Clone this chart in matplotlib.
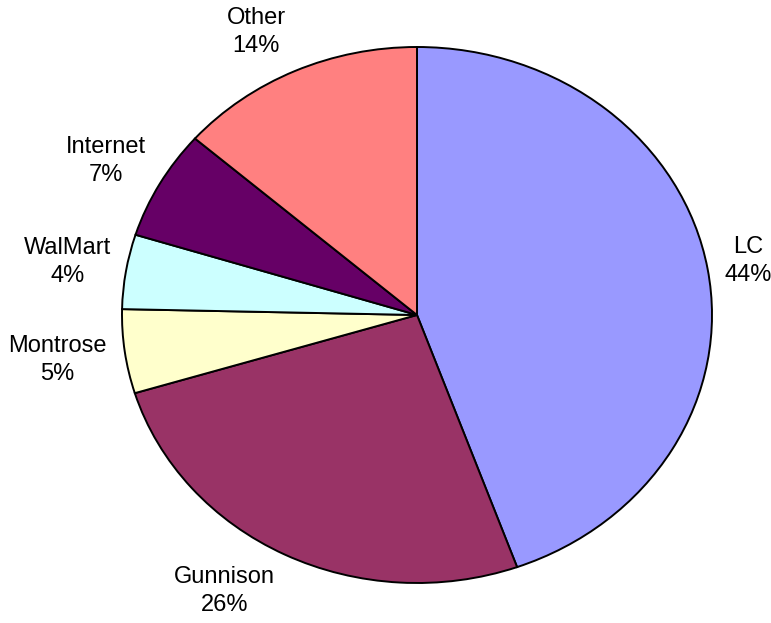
import numpy as np
import matplotlib
matplotlib.use("Agg")
import matplotlib.pyplot as plt


# slice order: clockwise from 12 o'clock
names = ["LC", "Gunnison", "Montrose", "WalMart", "Internet", "Other"]
shares = [44.49, 25.8, 5.06, 4.49, 6.6, 13.56]
colors = ["#9999FF", "#993366", "#FFFFCC", "#CCFFFF", "#660066", "#FF8080"]

# label placement (fraction of radius, angle nudge in degrees)
label_dist = [1.14, 1.22, 1.23, 1.20, 1.20, 1.19]
label_nudge = [0.2, -5.7, 0.0, -0.2, 0.7, 2.9]

W, H = 771, 623
CX, CY = 417, 315      # pie centre in pixels (from top-left)
RX, RY = 295, 268      # pie is drawn slightly squashed, like the original


def main():
    plt.rcParams["font.family"] = ["Liberation Sans", "DejaVu Sans"]
    fig = plt.figure(figsize=(W / 100, H / 100), dpi=100, facecolor="white")
    ax = fig.add_axes([0, 0, 1, 1])

    wedges, _ = ax.pie(
        shares,
        colors=colors,
        startangle=90,
        counterclock=False,
        radius=1.0,
        wedgeprops=dict(edgecolor="black", linewidth=1.4),
    )

    for wedge, name, value, dist, nudge in zip(wedges, names, shares, label_dist, label_nudge):
        mid = np.deg2rad((wedge.theta1 + wedge.theta2) / 2 + nudge)
        ax.text(
            dist * np.cos(mid),
            dist * np.sin(mid),
            f"{name}\n{round(value)}%",
            ha="center",
            va="center",
            fontsize=17,
            linespacing=1.35,
            color="black",
        )

    ax.set_aspect("auto")
    ax.set_xlim(-CX / RX, (W - CX) / RX)
    ax.set_ylim(-(H - CY) / RY, CY / RY)
    ax.axis("off")

    fig.savefig("out.png", dpi=100, facecolor="white")
    plt.close(fig)


if __name__ == "__main__":
    main()
